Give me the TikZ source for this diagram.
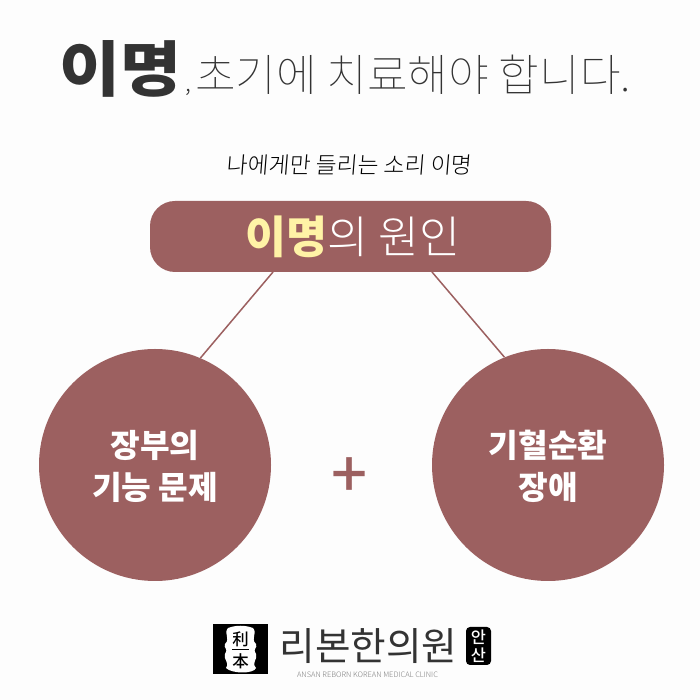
\documentclass[tikz,border=0pt]{standalone}
\usepackage{fontspec}
\setmainfont{Noto Sans CJK KR}
\newfontfamily\krlight{Noto Sans CJK KR Light}
\newfontfamily\krthin{Noto Sans CJK KR Thin}
\newfontfamily\krblack{Noto Sans CJK KR Black}
\newfontfamily\krmedium{Noto Sans CJK KR Medium}
\newcommand{\pxfont}[1]{\fontsize{#1}{#1}\selectfont}
\definecolor{rosewood}{HTML}{9C6060}
\definecolor{inkgray}{HTML}{333333}
\definecolor{paleyellow}{HTML}{FFF3A6}
\definecolor{paper}{HTML}{FDFDFD}
\tikzset{
  cause/.style={draw=none, circle, fill=rosewood, minimum size=232*0.03cm, inner sep=0pt, text=white, align=center, font=\krblack\pxfont{27.5}, text depth=0pt},
  link/.style={draw=rosewood, line width=0.045cm}
}
\begin{document}
\begin{tikzpicture}[x=0.03cm, y=0.03cm]
    \useasboundingbox (0, 0) rectangle (700, 700);
    \fill[paper] (0, 0) rectangle (700, 700);

    % Title
    \node[inner sep=0pt, text=inkgray, anchor=base west] (title) at (59, 608)
        {\scalebox{1.1}[1]{\krblack\pxfont{51.5}이명}{\krlight\pxfont{20}\,,}\hspace{0.12cm}\krthin\pxfont{37.7}초기에 치료해야 합니다.};
    \node[inner sep=0pt, text=black, xslant=0.08] (subtitle) at (350, 535)
        {\krlight\pxfont{19.4}나에게만 들리는 소리 이명};

    % Causes
    \node[draw=none, fill=rosewood, rounded corners=0.75cm, minimum width=401*0.03cm, minimum height=71*0.03cm, inner sep=0pt] (origin) at (350.5, 463.5)
        {\raisebox{-0.07cm}{\pxfont{38}\hspace{0.14cm}{\krblack\color{paleyellow}이명}{\krlight\color{white}의 원인}}};
    \node[cause] (organ) at (155, 235) {장부의\\[0.31cm]기능 문제};
    \node[cause] (blood) at (548, 235) {기혈순환\\[0.31cm]장애};
    \node[inner sep=0pt, text=rosewood] (plus) at (350, 222) {\krmedium\pxfont{54}+};

    \coordinate (originL) at (273, 428);
    \coordinate (originR) at (432, 428);
    \draw[link] (originL) -- (organ.67);
    \draw[link] (originR) -- (blood.112);

    % Logo
    \fill[black] (213, 26) rectangle (268, 76);
    \fill[white] (228, 72) .. controls (236, 75) and (245, 75) .. (253, 72)
        .. controls (258, 66) and (250, 62) .. (256, 56)
        .. controls (258, 52) and (252, 51) .. (256, 46)
        .. controls (258, 40) and (251, 38) .. (256, 32)
        .. controls (254, 26) and (232, 26) .. (226, 32)
        .. controls (230, 38) and (223, 40) .. (225, 46)
        .. controls (229, 51) and (223, 52) .. (225, 56)
        .. controls (231, 62) and (223, 66) .. (228, 72) -- cycle;
    \node[inner sep=0pt, text=black] (markA) at (240.5, 61) {\krmedium\pxfont{14}利};
    \node[inner sep=0pt, text=black] (markB) at (240.5, 39) {\krmedium\pxfont{14}本};
    \draw[black, line width=0.03cm] (232, 50) -- (249, 50);
    \node[inner sep=0pt, text=inkgray] (clinic) at (368.5, 53.5) {\pxfont{33}리본한의원};
    \node[fill=black, rounded corners=0.12cm, minimum width=25*0.03cm, minimum height=38*0.03cm, inner sep=0pt, text=white, align=center, font=\krmedium\pxfont{14}] (branch) at (478.5, 54) {안\\[0.04cm]산};
    \node[inner sep=0pt, text=gray] (caption) at (367.5, 25) {\krlight\pxfont{6.4}ANSAN REBORN KOREAN MEDICAL CLINIC};
\end{tikzpicture}
\end{document}
